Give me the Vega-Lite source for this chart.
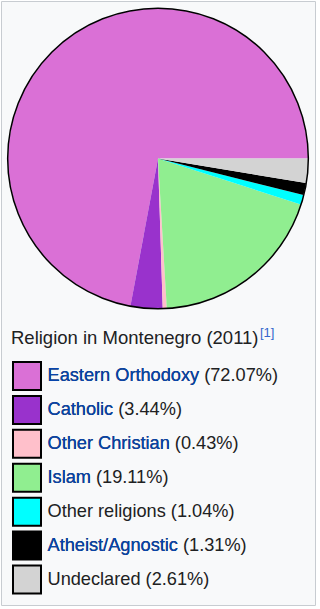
{
  "$schema": "https://vega.github.io/schema/vega-lite/v6.json",
  "width": 314,
  "height": 604,
  "autosize": {"type": "none"},
  "padding": {"left": 1, "top": 1, "right": 5, "bottom": 4},
  "background": "#ffffff",
  "config": {
    "view": {"stroke": "#c8ccd1", "strokeWidth": 1, "fill": "#f8f9fa"},
    "text": {"font": "Liberation Sans"}
  },
  "datasets": {
    "religion": [
      {"idx": 1, "name": "Eastern Orthodoxy", "pct": 72.07, "label": "Eastern Orthodoxy (72.07%)", "link": true},
      {"idx": 2, "name": "Catholic", "pct": 3.44, "label": "Catholic (3.44%)", "link": true},
      {"idx": 3, "name": "Other Christian", "pct": 0.43, "label": "Other Christian (0.43%)", "link": true},
      {"idx": 4, "name": "Islam", "pct": 19.11, "label": "Islam (19.11%)", "link": true},
      {"idx": 5, "name": "Other religions", "pct": 1.04, "label": "Other religions (1.04%)", "link": false},
      {"idx": 6, "name": "Atheist/Agnostic", "pct": 1.31, "label": "Atheist/Agnostic (1.31%)", "link": true},
      {"idx": 7, "name": "Undeclared", "pct": 2.61, "label": "Undeclared (2.61%)", "link": false}
    ]
  },
  "layer": [
    {
      "data": {"name": "religion"},
      "mark": {"type": "arc", "outerRadius": 150, "yOffset": -144.5, "stroke": null},
      "encoding": {
        "theta": {"field": "pct", "type": "quantitative", "stack": true, "scale": {"range": [1.5707963, 7.8539816]}},
        "order": {"field": "idx", "sort": "descending"},
        "color": {
          "field": "name", "type": "nominal", "legend": null,
          "scale": {
            "domain": ["Eastern Orthodoxy", "Catholic", "Other Christian", "Islam", "Other religions", "Atheist/Agnostic", "Undeclared"],
            "range": ["#da70d6", "#9932cc", "#ffc0cb", "#90ee90", "#00ffff", "#000000", "#d3d3d3"]
          }
        }
      }
    },
    {
      "data": {"values": [{"outline": "pie"}]},
      "mark": {"type": "point", "shape": "circle", "size": 90400, "filled": false, "stroke": "#000000", "strokeWidth": 1.5, "opacity": 1, "yOffset": -144.5},
      "encoding": {}
    },
    {
      "data": {"name": "religion"},
      "mark": {"type": "point", "shape": "square", "size": 784, "filled": true, "stroke": "#000000", "strokeWidth": 2, "opacity": 1},
      "encoding": {
        "x": {"value": 26},
        "y": {"field": "name", "type": "ordinal", "axis": null, "sort": {"field": "idx"},
              "scale": {"type": "point", "range": [375, 578.5], "padding": 0}},
        "color": {"field": "name", "type": "nominal", "legend": null}
      }
    },
    {
      "data": {"name": "religion"},
      "mark": {"type": "text", "align": "left", "baseline": "middle", "fontSize": 18.2, "color": "#202122"},
      "encoding": {
        "x": {"value": 46.5},
        "y": {"field": "name", "type": "ordinal", "axis": null, "sort": {"field": "idx"}},
        "text": {"field": "label"}
      }
    },
    {
      "data": {"name": "religion"},
      "transform": [{"filter": "datum.link"}],
      "mark": {"type": "text", "align": "left", "baseline": "middle", "fontSize": 18.2, "color": "#0645ad"},
      "encoding": {
        "x": {"value": 46.5},
        "y": {"field": "name", "type": "ordinal", "axis": null, "sort": {"field": "idx"}},
        "text": {"field": "name"}
      }
    },
    {
      "data": {"values": [{"title": "Religion in Montenegro (2011)"}]},
      "mark": {"type": "text", "align": "left", "baseline": "alphabetic", "fontSize": 18.5, "color": "#202122"},
      "encoding": {
        "x": {"value": 10},
        "y": {"value": 343},
        "text": {"field": "title"}
      }
    },
    {
      "data": {"values": [{"ref": "[1]"}]},
      "mark": {"type": "text", "align": "left", "baseline": "alphabetic", "fontSize": 13, "color": "#3366cc"},
      "encoding": {
        "x": {"value": 259},
        "y": {"value": 335.5},
        "text": {"field": "ref"}
      }
    }
  ]
}
